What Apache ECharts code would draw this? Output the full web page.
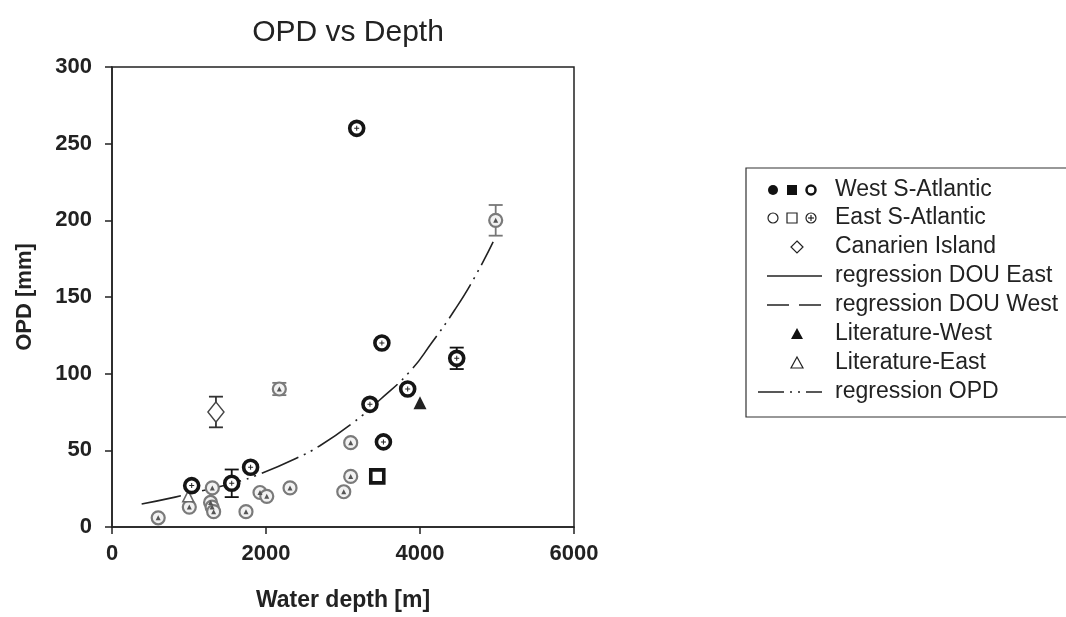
<!DOCTYPE html>
<html>
<head>
<meta charset="utf-8">
<script src="https://cdn.jsdelivr.net/npm/echarts@6/dist/echarts.min.js"></script>
<style>html,body{margin:0;padding:0;background:#fff}#c{width:1066px;height:617px}</style>
</head>
<body>
<div id="c"></div>
<script>
// ---- data ----
const xTicks = [0, 2000, 4000, 6000];
const yTicks = [0, 50, 100, 150, 200, 250, 300];
// West S-Atlantic (dark rings)  [depth, OPD]
const westCircles = [[1035, 27], [1555, 28.5], [1800, 39], [3178, 260], [3350, 80], [3505, 120], [3525, 55.5], [3840, 90], [4477, 110]];
// West S-Atlantic square
const westSquares = [[3445, 33]];
// East S-Atlantic (grey rings)
const eastCircles = [[600, 6], [1004, 13], [1303, 25.5], [1280, 16], [1300, 13], [1320, 10], [1740, 10], [1922, 22.5], [2010, 20], [2312, 25.5], [3100, 55], [3100, 33], [3010, 23], [2173, 90], [4983, 200]];
// Canarien Island
const canary = [[1350, 75]];
// Literature
const litWest = [[4000, 81]];
const litEast = [[990, 20]];
// error bars [depth, OPD, +/-]
const errWest = [[1555, 28.5, 9], [4477, 110, 7], [3445, 33, 3]];
const errEast = [[2173, 90, 4], [4983, 200, 10]];
const errCanary = [[1350, 75, 10]];
// regression OPD curve
const regOPD = [[385, 15], [820, 19.5], [1200, 24], [1600, 29], [1920, 34.5], [2380, 44.5], [2700, 53], [3130, 68], [3480, 83], [3870, 101.5], [4150, 120], [4450, 141.5], [4700, 162], [4950, 186]];
const legendNames = ['West S-Atlantic', 'East S-Atlantic', 'Canarien Island', 'regression DOU East', 'regression DOU West', 'Literature-West', 'Literature-East', 'regression OPD'];

const FONT = '"Liberation Sans", Arial, sans-serif';
const plusPath = 'path://M2,0H3V2H5V3H3V5H2V3H0V2H2Z';

function errSeries(data, color) {
  return {
    type: 'custom', z: 1, silent: true,
    data: data,
    renderItem: function (params, api) {
      const x = api.value(0), y = api.value(1), e = api.value(2);
      const hi = api.coord([x, y + e]);
      const lo = api.coord([x, y - e]);
      const w = 7;
      const st = { stroke: color, lineWidth: 1.8 };
      return { type: 'group', children: [
        { type: 'line', shape: { x1: hi[0], y1: hi[1], x2: lo[0], y2: lo[1] }, style: st },
        { type: 'line', shape: { x1: hi[0] - w, y1: hi[1], x2: hi[0] + w, y2: hi[1] }, style: st },
        { type: 'line', shape: { x1: lo[0] - w, y1: lo[1], x2: lo[0] + w, y2: lo[1] }, style: st }
      ]};
    }
  };
}

// legend graphic
const LX = 746, LY = 168;
const rowY = [190, 218, 247, 276, 305, 334, 363, 392];
const legendEls = [
  { type: 'rect', shape: { x: LX, y: LY, width: 340, height: 249 }, style: { fill: '#fff', stroke: '#333', lineWidth: 1.2 } }
];
legendNames.forEach(function (n, i) {
  legendEls.push({ type: 'text', x: 835, y: rowY[i], style: { text: n, font: '23px ' + FONT, fill: '#222', textVerticalAlign: 'middle' } });
});
// row 0: West symbols
legendEls.push({ type: 'circle', shape: { cx: 773, cy: rowY[0], r: 5 }, style: { fill: '#111' } });
legendEls.push({ type: 'rect', shape: { x: 787, y: rowY[0] - 5, width: 10, height: 10 }, style: { fill: '#111' } });
legendEls.push({ type: 'circle', shape: { cx: 811, cy: rowY[0], r: 4.5 }, style: { fill: '#fff', stroke: '#111', lineWidth: 2.5 } });
// row 1: East symbols
legendEls.push({ type: 'circle', shape: { cx: 773, cy: rowY[1], r: 5 }, style: { fill: '#fff', stroke: '#222', lineWidth: 1.2 } });
legendEls.push({ type: 'rect', shape: { x: 787, y: rowY[1] - 5, width: 10, height: 10 }, style: { fill: '#fff', stroke: '#222', lineWidth: 1.2 } });
legendEls.push({ type: 'circle', shape: { cx: 811, cy: rowY[1], r: 5 }, style: { fill: '#fff', stroke: '#222', lineWidth: 1.2 } });
legendEls.push({ type: 'line', shape: { x1: 808, y1: rowY[1], x2: 814, y2: rowY[1] }, style: { stroke: '#222', lineWidth: 1.2 } });
legendEls.push({ type: 'line', shape: { x1: 811, y1: rowY[1] - 3, x2: 811, y2: rowY[1] + 3 }, style: { stroke: '#222', lineWidth: 1.2 } });
// row 2: diamond
legendEls.push({ type: 'polygon', shape: { points: [[797, rowY[2] - 6], [803, rowY[2]], [797, rowY[2] + 6], [791, rowY[2]]] }, style: { fill: '#fff', stroke: '#222', lineWidth: 1.2 } });
// row 3: solid line
legendEls.push({ type: 'line', shape: { x1: 767, y1: rowY[3], x2: 822, y2: rowY[3] }, style: { stroke: '#222', lineWidth: 1.3 } });
// row 4: dashed
legendEls.push({ type: 'line', shape: { x1: 767, y1: rowY[4], x2: 822, y2: rowY[4] }, style: { stroke: '#222', lineWidth: 1.3, lineDash: [22, 10] } });
// row 5: filled triangle
legendEls.push({ type: 'polygon', shape: { points: [[797, rowY[5] - 6], [803, rowY[5] + 5], [791, rowY[5] + 5]] }, style: { fill: '#111' } });
// row 6: open triangle
legendEls.push({ type: 'polygon', shape: { points: [[797, rowY[6] - 6], [803, rowY[6] + 5], [791, rowY[6] + 5]] }, style: { fill: '#fff', stroke: '#222', lineWidth: 1.2 } });
// row 7: dash-dot-dot
legendEls.push({ type: 'line', shape: { x1: 758, y1: rowY[7], x2: 822, y2: rowY[7] }, style: { stroke: '#222', lineWidth: 1.3, lineDash: [26, 6, 2, 6, 2, 6] } });

const chart = echarts.init(document.getElementById('c'), null, { renderer: 'canvas' });
chart.setOption({
  backgroundColor: '#fff',
  animation: false,
  title: { text: 'OPD vs Depth', left: 343, top: 13, textAlign: 'center', textStyle: { fontFamily: FONT, fontSize: 30, fontWeight: 'normal', color: '#222' } },
  grid: { left: 112, right: 492, top: 67, bottom: 87, show: true, borderColor: '#222', borderWidth: 1.5, backgroundColor: 'transparent' },
  xAxis: {
    type: 'value', min: xTicks[0], max: xTicks[xTicks.length - 1], interval: 2000,
    name: 'Water depth [m]', nameLocation: 'middle', nameGap: 62,
    nameTextStyle: { fontFamily: FONT, fontSize: 23, fontWeight: 'bold', color: '#222' },
    axisLine: { show: true, lineStyle: { color: '#222', width: 1.5 } },
    axisTick: { show: true, inside: false, length: 7, lineStyle: { color: '#222', width: 1.5 } },
    axisLabel: { margin: 16, fontFamily: FONT, fontSize: 22, fontWeight: 'bold', color: '#222', formatter: function (v) { return String(v); } },
    splitLine: { show: false }
  },
  yAxis: {
    type: 'value', min: yTicks[0], max: yTicks[yTicks.length - 1], interval: 50,
    name: 'OPD [mm]', nameLocation: 'middle', nameGap: 76, nameRotate: 90,
    nameTextStyle: { fontFamily: FONT, fontSize: 22, fontWeight: 'bold', color: '#222' },
    axisLine: { show: true, lineStyle: { color: '#222', width: 1.5 } },
    axisTick: { show: true, inside: false, length: 7, lineStyle: { color: '#222', width: 1.5 } },
    axisLabel: { margin: 20, fontFamily: FONT, fontSize: 22, fontWeight: 'bold', color: '#222' },
    splitLine: { show: false }
  },
  graphic: legendEls,
  series: [
    { type: 'line', name: 'regression OPD', data: regOPD, smooth: true, showSymbol: false, symbol: 'none', z: 1,
      lineStyle: { color: '#222', width: 1.6, type: [40, 6, 2, 6, 2, 6] } },
    errSeries(errEast, '#777'),
    errSeries(errWest, '#111'),
    errSeries(errCanary, '#333'),
    { type: 'scatter', name: 'East S-Atlantic', data: eastCircles, symbol: 'circle', symbolSize: 13, z: 3,
      itemStyle: { color: '#f2f2f2', borderColor: '#7a7a7a', borderWidth: 2.2, opacity: 1 } },
    { type: 'scatter', name: 'East inner', data: eastCircles, symbol: 'triangle', symbolSize: 5, z: 4,
      itemStyle: { color: '#555', opacity: 1 } },
    { type: 'scatter', name: 'Literature-East', data: litEast, symbol: 'triangle', symbolSize: 11, z: 3,
      itemStyle: { color: '#fff', borderColor: '#666', borderWidth: 1.5, opacity: 1 } },
    { type: 'scatter', name: 'Canarien Island', data: canary, symbol: 'diamond', symbolSize: [16, 20], z: 3,
      itemStyle: { color: '#fff', borderColor: '#444', borderWidth: 1.5, opacity: 1 } },
    { type: 'scatter', name: 'West S-Atlantic', data: westCircles, symbol: 'circle', symbolSize: 14, z: 5,
      itemStyle: { color: '#fff', borderColor: '#151515', borderWidth: 3.6, opacity: 1 } },
    { type: 'scatter', name: 'West inner', data: westCircles, symbol: plusPath, symbolSize: 5, z: 6,
      itemStyle: { color: '#222', opacity: 1 } },
    { type: 'scatter', name: 'West square', data: westSquares, symbol: 'rect', symbolSize: 13, z: 5,
      itemStyle: { color: '#fff', borderColor: '#151515', borderWidth: 3.6, opacity: 1 } },
    { type: 'scatter', name: 'Literature-West', data: litWest, symbol: 'triangle', symbolSize: 13, z: 5,
      itemStyle: { color: '#222', opacity: 1 } }
  ]
});
</script>
</body>
</html>
